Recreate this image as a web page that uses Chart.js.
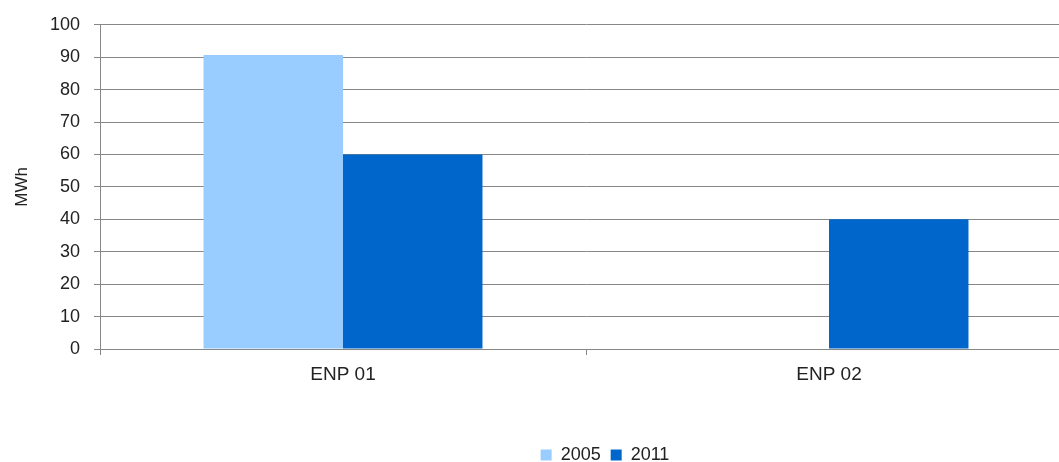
<!DOCTYPE html>
<html>
<head>
<meta charset="utf-8">
<script src="https://cdn.jsdelivr.net/npm/chart.js@4"></script>
<style>
  html, body { margin: 0; padding: 0; background: #fff; overflow: hidden; }
  #wrap { width: 1075px; height: 462px; }
</style>
</head>
<body>
<div id="wrap"><canvas id="chart"></canvas></div>
<script>
// Chart data
let categories = ["ENP 01", "ENP 02"];
let values2005 = [90.7, 0];
let values2011 = [60, 40];
let yTicks = [0, 10, 20, 30, 40, 50, 60, 70, 80, 90, 100];

let textColor = "#222222";
let gridColor = "#878787";
let fontFamily = "'Liberation Sans', Arial, sans-serif";

// legend sits a little right of centre and lower in the original
let shiftLegend = {
  id: "shiftLegend",
  beforeDraw: function(chart){
    chart.legend.left += 69;
    chart.legend.right += 69;
    chart.legend.top += 12;
    chart.legend.bottom += 12;
  }
};

new Chart(document.getElementById("chart").getContext("2d"), {
  type: "bar",
  data: {
    labels: categories,
    datasets: [
      { label: "2005", data: values2005, backgroundColor: "#99CCFF", categoryPercentage: 0.574, barPercentage: 1 },
      { label: "2011", data: values2011, backgroundColor: "#0066CC", categoryPercentage: 0.574, barPercentage: 1 }
    ]
  },
  plugins: [shiftLegend],
  options: {
    responsive: true,
    maintainAspectRatio: false,
    animation: false,
    layout: { padding: { top: 16, right: 3, left: 0, bottom: 0 } },
    plugins: {
      tooltip: { enabled: false },
      legend: {
        position: "bottom",
        labels: {
          color: textColor,
          font: { family: fontFamily, size: 18 },
          boxWidth: 11,
          boxHeight: 11,
          padding: 10
        }
      }
    },
    scales: {
      x: {
        grid: { display: true, drawOnChartArea: false, drawTicks: true, tickLength: 6, color: gridColor, offset: true },
        border: { color: gridColor },
        ticks: { color: textColor, font: { family: fontFamily, size: 19 }, padding: 8 },
        afterFit: function(scale){ scale.height = 75; }
      },
      y: {
        min: 0,
        max: 100,
        afterBuildTicks: function(scale){ scale.ticks = yTicks.map(v => ({ value: v })); },
        grid: { color: gridColor, tickLength: 6, lineWidth: 1 },
        border: { color: gridColor },
        ticks: { color: textColor, font: { family: fontFamily, size: 18 }, padding: 14 },
        title: { display: true, text: "MWh", color: textColor, font: { family: fontFamily, size: 17 }, padding: { top: 12, bottom: 0 } },
        afterFit: function(scale){ scale.width = 100; }
      }
    }
  }
});
</script>
</body>
</html>
